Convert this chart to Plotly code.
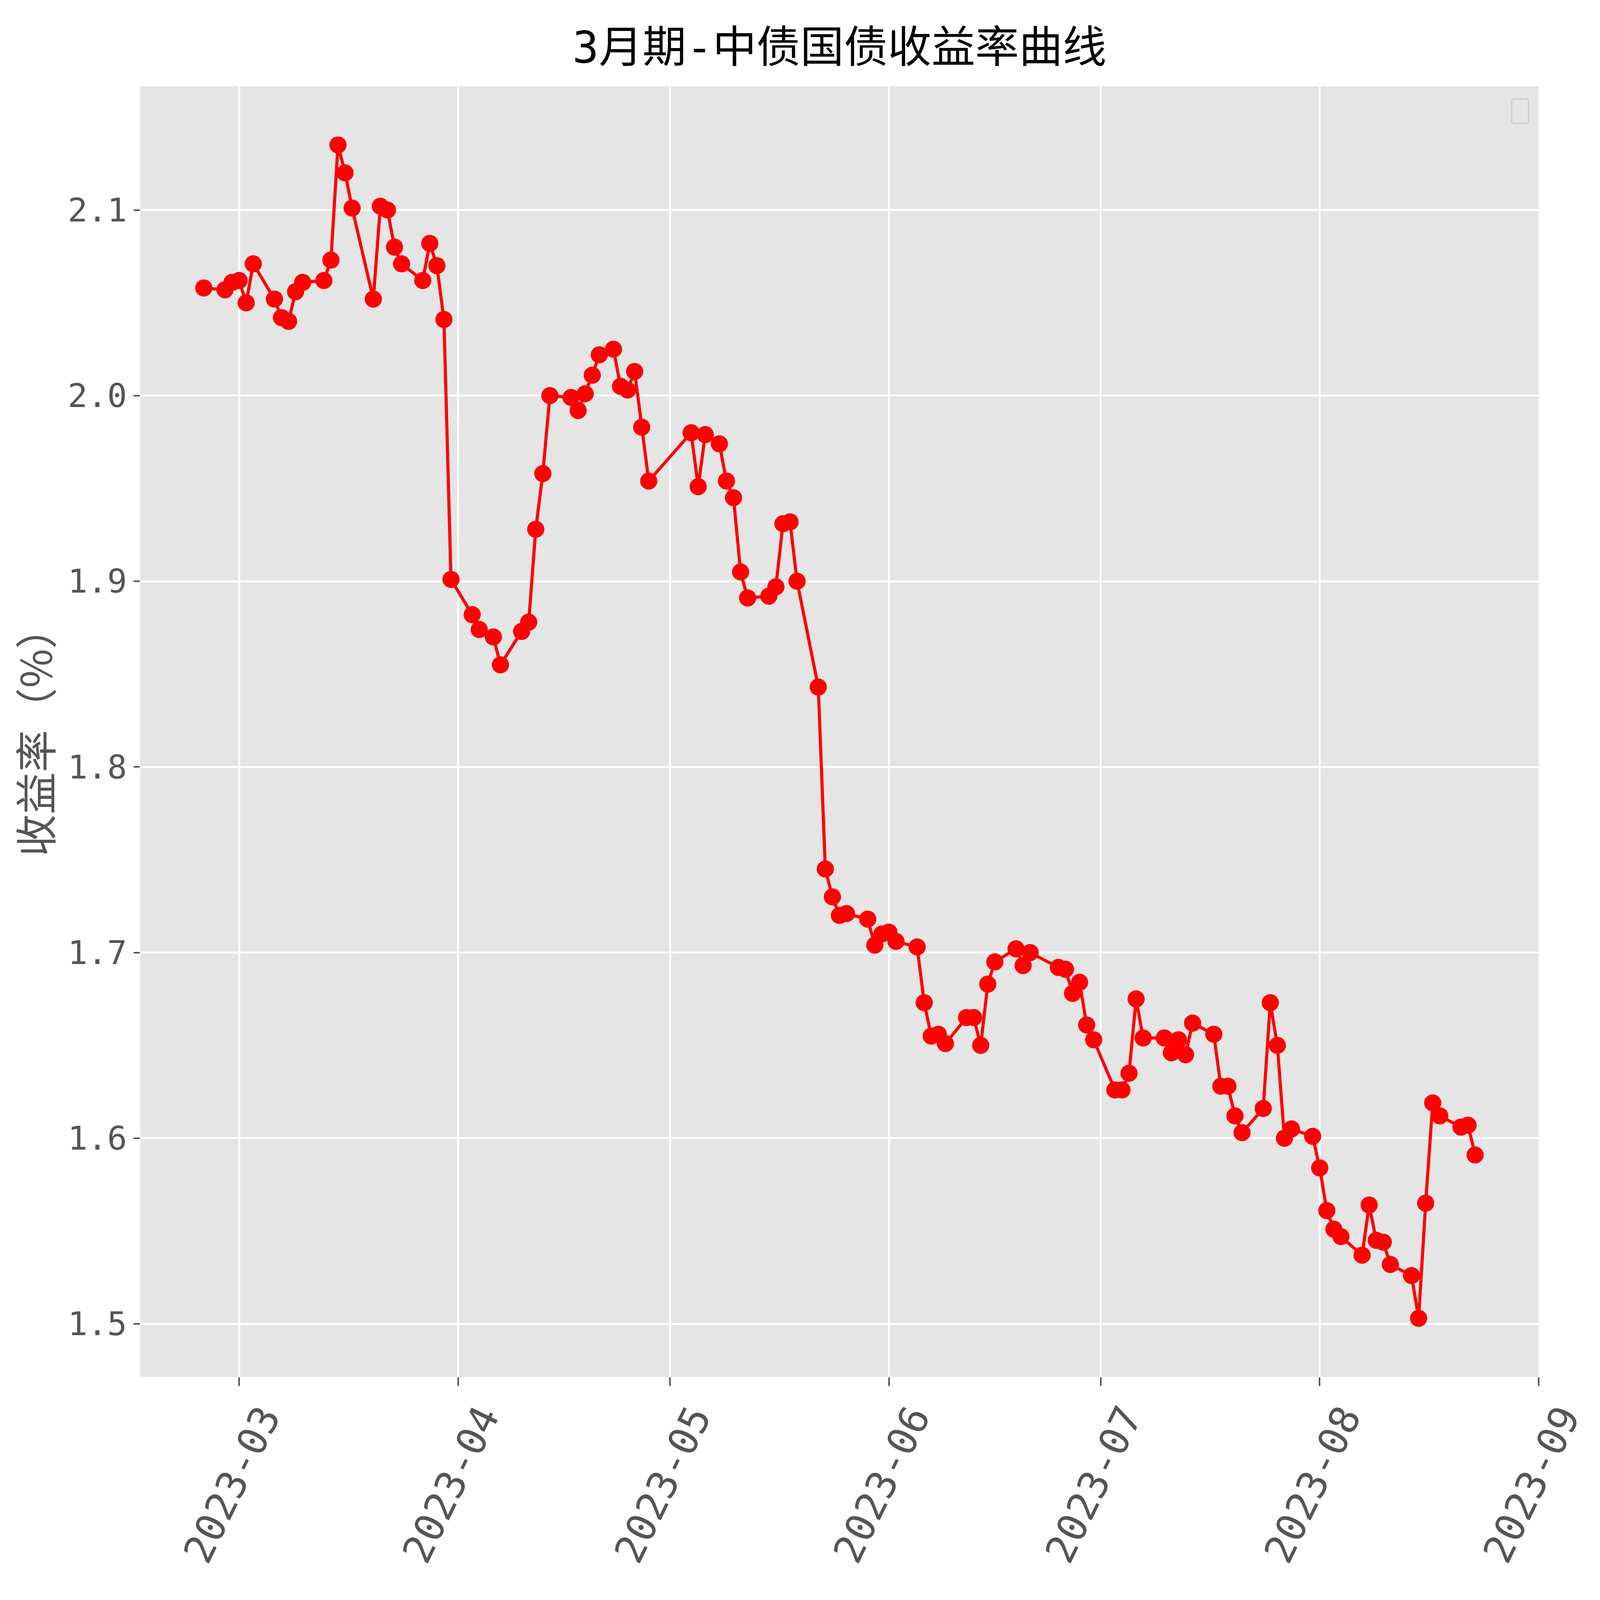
import plotly.graph_objects as go

# ---- data ----
dates = [
    "2023-02-24", "2023-02-27", "2023-02-28", "2023-03-01", "2023-03-02", "2023-03-03",
    "2023-03-06", "2023-03-07", "2023-03-08", "2023-03-09", "2023-03-10",
    "2023-03-13", "2023-03-14", "2023-03-15", "2023-03-16", "2023-03-17",
    "2023-03-20", "2023-03-21", "2023-03-22", "2023-03-23", "2023-03-24",
    "2023-03-27", "2023-03-28", "2023-03-29", "2023-03-30", "2023-03-31",
    "2023-04-03", "2023-04-04", "2023-04-06", "2023-04-07",
    "2023-04-10", "2023-04-11", "2023-04-12", "2023-04-13", "2023-04-14",
    "2023-04-17", "2023-04-18", "2023-04-19", "2023-04-20", "2023-04-21",
    "2023-04-23", "2023-04-24", "2023-04-25", "2023-04-26", "2023-04-27", "2023-04-28",
    "2023-05-04", "2023-05-05", "2023-05-06",
    "2023-05-08", "2023-05-09", "2023-05-10", "2023-05-11", "2023-05-12",
    "2023-05-15", "2023-05-16", "2023-05-17", "2023-05-18", "2023-05-19",
    "2023-05-22", "2023-05-23", "2023-05-24", "2023-05-25", "2023-05-26",
    "2023-05-29", "2023-05-30", "2023-05-31", "2023-06-01", "2023-06-02",
    "2023-06-05", "2023-06-06", "2023-06-07", "2023-06-08", "2023-06-09",
    "2023-06-12", "2023-06-13", "2023-06-14", "2023-06-15", "2023-06-16",
    "2023-06-19", "2023-06-20", "2023-06-21",
    "2023-06-25", "2023-06-26", "2023-06-27", "2023-06-28", "2023-06-29", "2023-06-30",
    "2023-07-03", "2023-07-04", "2023-07-05", "2023-07-06", "2023-07-07",
    "2023-07-10", "2023-07-11", "2023-07-12", "2023-07-13", "2023-07-14",
    "2023-07-17", "2023-07-18", "2023-07-19", "2023-07-20", "2023-07-21",
    "2023-07-24", "2023-07-25", "2023-07-26", "2023-07-27", "2023-07-28",
    "2023-07-31", "2023-08-01", "2023-08-02", "2023-08-03", "2023-08-04",
    "2023-08-07", "2023-08-08", "2023-08-09", "2023-08-10", "2023-08-11",
    "2023-08-14", "2023-08-15", "2023-08-16", "2023-08-17", "2023-08-18",
    "2023-08-21", "2023-08-22", "2023-08-23",
]

yields = [
    2.058, 2.057, 2.061, 2.062, 2.050, 2.071,
    2.052, 2.042, 2.040, 2.056, 2.061,
    2.062, 2.073, 2.135, 2.120, 2.101,
    2.052, 2.102, 2.100, 2.080, 2.071,
    2.062, 2.082, 2.070, 2.041, 1.901,
    1.882, 1.874, 1.870, 1.855,
    1.873, 1.878, 1.928, 1.958, 2.000,
    1.999, 1.992, 2.001, 2.011, 2.022,
    2.025, 2.005, 2.003, 2.013, 1.983, 1.954,
    1.980, 1.951, 1.979,
    1.974, 1.954, 1.945, 1.905, 1.891,
    1.892, 1.897, 1.931, 1.932, 1.900,
    1.843, 1.745, 1.730, 1.720, 1.721,
    1.718, 1.704, 1.710, 1.711, 1.706,
    1.703, 1.673, 1.655, 1.656, 1.651,
    1.665, 1.665, 1.650, 1.683, 1.695,
    1.702, 1.693, 1.700,
    1.692, 1.691, 1.678, 1.684, 1.661, 1.653,
    1.626, 1.626, 1.635, 1.675, 1.654,
    1.654, 1.646, 1.653, 1.645, 1.662,
    1.656, 1.628, 1.628, 1.612, 1.603,
    1.616, 1.673, 1.650, 1.600, 1.605,
    1.601, 1.584, 1.561, 1.551, 1.547,
    1.537, 1.564, 1.545, 1.544, 1.532,
    1.526, 1.503, 1.565, 1.619, 1.612,
    1.606, 1.607, 1.591,
]

title_text = "3月期-中债国债收益率曲线"
y_label = "收益率（%）"
y_tick_vals = [1.5, 1.6, 1.7, 1.8, 1.9, 2.0, 2.1]
y_tick_text = ["1.5", "1.6", "1.7", "1.8", "1.9", "2.0", "2.1"]
x_tick_vals = ["2023-03-01", "2023-04-01", "2023-05-01", "2023-06-01",
               "2023-07-01", "2023-08-01", "2023-09-01"]
x_tick_text = ["2023-03", "2023-04", "2023-05", "2023-06",
               "2023-07", "2023-08", "2023-09"]

# ---- styling ----
# The browser viewport that photographs the page is 4096 x 4096 css px,
# so the figure is laid out to fill it (body margin 8 px on each side).
W, H = 4080, 4080
ML, MR, MT, MB = 351, 149, 213, 563
MONO = "DejaVu Sans Mono, Noto Sans CJK SC"
CJK = "Noto Sans CJK SC"
TICK_GRAY = "#555555"

fig = go.Figure()
fig.add_trace(go.Scatter(
    x=dates, y=yields, mode="lines+markers",
    line=dict(color="#FF0000", width=8),
    marker=dict(color="#FF0000", size=44),
    showlegend=False,
))

# empty matplotlib-style legend frame (top right)
x0, x1 = 0.9807, 0.9927
y0, y1 = 0.9713, 0.9903
rx, ry = 0.0022, 0.0024
path = (f"M {x0+rx},{y0} L {x1-rx},{y0} Q {x1},{y0} {x1},{y0+ry} "
        f"L {x1},{y1-ry} Q {x1},{y1} {x1-rx},{y1} L {x0+rx},{y1} "
        f"Q {x0},{y1} {x0},{y1-ry} L {x0},{y0+ry} Q {x0},{y0} {x0+rx},{y0} Z")
fig.add_shape(type="path", path=path, xref="paper", yref="paper",
              line=dict(color="#CCCCCC", width=3), fillcolor="rgba(229,229,229,0.8)")

fig.update_layout(
    template="none",
    width=W, height=H,
    margin=dict(l=ML, r=MR, t=MT, b=MB, autoexpand=False),
    paper_bgcolor="white",
    plot_bgcolor="#E5E5E5",
    showlegend=False,
    title=dict(text=title_text, x=0.5, xref="paper", xanchor="center",
               y=1 - 113 / H, yref="container", yanchor="middle",
               font=dict(family=MONO, size=112, color="black")),
    xaxis=dict(
        type="date",
        range=["2023-02-15", "2023-09-01"],
        tickvals=x_tick_vals, ticktext=x_tick_text,
        tickangle=-64,
        tickfont=dict(family=MONO, size=102, color=TICK_GRAY),
        ticklabelshift=62, ticklabelstandoff=-19,
        ticks="outside", ticklen=22, tickwidth=4, tickcolor=TICK_GRAY,
        showgrid=True, gridcolor="white", gridwidth=5,
        showline=False, zeroline=False, automargin=False,
    ),
    yaxis=dict(
        range=[1.4714, 2.1666],
        tickvals=y_tick_vals, ticktext=y_tick_text,
        tickfont=dict(family=MONO, size=84, color=TICK_GRAY),
        ticklabelstandoff=0,
        ticks="outside", ticklen=16, tickwidth=4, tickcolor=TICK_GRAY,
        showgrid=True, gridcolor="white", gridwidth=5,
        showline=False, zeroline=False, automargin=False,
        title=dict(text=y_label, font=dict(family=CJK, size=108, color=TICK_GRAY),
                   standoff=50),
    ),
)

fig.write_html("out.html")
